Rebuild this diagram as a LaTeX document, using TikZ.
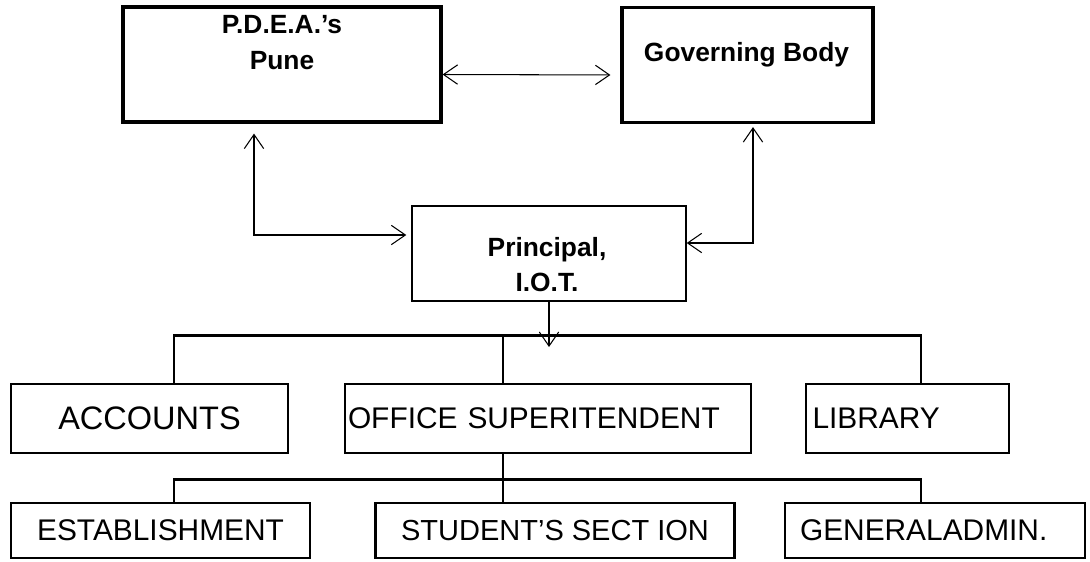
\documentclass[tikz,border=0pt]{standalone}
\usepackage{fontspec}
\setmainfont{Liberation Sans}
\usetikzlibrary{arrows.meta}
\tikzset{topbox/.style = {draw, line width=1.8pt, rectangle, minimum height=2.3cm},
         midbox/.style = {draw, line width=0.8pt, rectangle, minimum height=1.9cm, minimum width=5.48cm},
         unitbox/.style = {draw, line width=1.6pt, rectangle, inner sep=0pt, font=\fontsize{17}{20}\selectfont},
         title/.style = {align=center, font=\bfseries\fontsize{15}{20}\selectfont},
         link/.style = {line width=0.6pt, >={Straight Barb[length=8pt,width=11pt]}},
         bus/.style = {line width=1.5pt}}

\begin{document}
\begin{tikzpicture}
        \useasboundingbox (0,0) rectangle (21.8,-11.22);

        \node[topbox, minimum width=6.36cm](pdea)at(5.64,-1.29){};
        \node[title](pdeatxt)at(5.64,-0.85){P.D.E.A.'s\\Pune};
        \node[topbox, minimum width=5.02cm](gov)at(14.95,-1.30){};
        \node[title](govtxt)at(14.93,-1.10){Governing Body};
        \draw[link,<->,shorten >=0.2cm]([yshift=-0.2cm]pdea.east)--([yshift=-0.2cm]gov.west);

        \node[midbox](prin)at(10.98,-5.07){};
        \node[title](printxt)at(10.94,-5.29){Principal,\\I.O.T.};
        \draw[link,<->,shorten <=0.2cm,shorten >=0.1cm]([xshift=-0.56cm]pdea.south)|-([yshift=0.37cm]prin.west);
        \draw[link,<->,shorten >=0.06cm]([yshift=0.21cm]prin.east)-|([xshift=0.11cm]gov.south);
        \coordinate(drop)at(10.98,-6.94);
        \draw[link,->](prin.south)--(drop);

        \node[unitbox, minimum width=5.54cm, minimum height=1.38cm, font=\fontsize{18.5}{20}\selectfont](acc)at(2.99,-8.37){ACCOUNTS};
        \node[unitbox, minimum height=1.38cm, text width=8.0cm, inner xsep=0.06cm, align=left](off)at(10.96,-8.37){OFFICE SUPERITENDENT};
        \node[unitbox, minimum height=1.38cm, text width=3.8cm, inner xsep=0.13cm, align=left](lib)at(18.15,-8.37){LIBRARY};
        \draw[bus]([xshift=0.49cm]acc.north)|-([xshift=0.27cm,yshift=0.94cm]lib.north)--([xshift=0.27cm]lib.north);
        \draw[bus]([xshift=-0.9cm,yshift=0.94cm]off.north)--([xshift=-0.9cm]off.north);

        \node[unitbox, minimum width=5.98cm, minimum height=1.10cm](est)at(3.21,-10.61){ESTABLISHMENT};
        \node[unitbox, minimum width=7.18cm, minimum height=1.10cm, font=\fontsize{16.5}{20}\selectfont](stu)at(11.1,-10.61){STUDENT'S SECT ION};
        \node[unitbox, minimum height=1.10cm, text width=5.40cm, inner xsep=0.3cm, align=left](gen)at(18.70,-10.61){GENERALADMIN.};
        \draw[bus]([xshift=-0.9cm]off.south)--([xshift=-1.04cm]stu.north);
        \draw[bus]([xshift=0.27cm]est.north)|-([xshift=-0.28cm,yshift=0.44cm]gen.north)--([xshift=-0.28cm]gen.north);
    \end{tikzpicture}
\end{document}
